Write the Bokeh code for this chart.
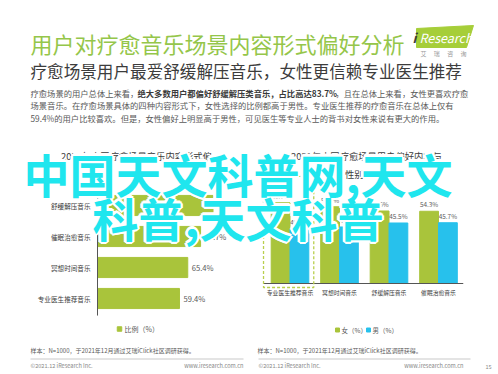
from bokeh.plotting import figure
from bokeh.models import Range1d, ColumnDataSource
from bokeh.transform import dodge
from bokeh.core.properties import value
from bokeh.embed import file_html
from bokeh.resources import INLINE

# ---------------- data ----------------
pref_cats = ["舒缓解压音乐", "催眠治愈音乐", "冥想时间音乐", "专业医生推荐音乐"]
pref_vals = [83.7, 74.7, 65.4, 59.4]

gender_cats = ["专业医生推荐音乐", "冥想时间音乐", "舒缓解压音乐", "催眠治愈音乐"]
female_vals = [60.7, 57.7, 54.5, 54.3]
male_vals = [40.8, 42.5, 45.5, 45.7]

title = "用户对疗愈音乐场景内容形式偏好分析"
subtitle = "疗愈场景用户最爱舒缓解压音乐，女性更信赖专业医生推荐"
para1 = ["疗愈场景的用户总体上来看，", "绝大多数用户都偏好舒缓解压类音乐，占比高达83.7%", "，且在总体上来看，女性更喜欢疗愈"]
para2 = "场景音乐。在疗愈场景具体的四种内容形式下，女性选择的比例都高于男性。专业医生推荐的疗愈音乐在总体上仅有"
para3 = "59.4%的用户比较喜欢。但是，女性偏好上明显高于男性，可见医生等专业人士的背书对女性来说有更大的作用。"
left_title = ["2021年中国疗愈场景音乐内容形式偏", "好分析"]
right_title = ["2021年中国疗愈场景用户偏好内容与", "性别关系"]
left_legend = "比例（%）"
right_legend = ["女（%）", "男（%）"]
source_note = "样本：N=1000，于2021年12月通过艾瑞iClick社区调研获得。"
copyright_note = "©2021.12 iResearch Inc."
site_note = "www.iresearch.com.cn"
page_no = "15"
overlay = ["中国天文科普网,天文", "科普,天文科普"]

# ---------------- style ----------------
W, H = 498, 374
FONT = "Noto Sans CJK SC"
GREEN = "#A9C43B"
BLUE = "#27C1EC"
TITLE_GREEN = "#95C64A"
DARK = "#3C3C3C"
GRAY = "#595959"
CYAN = "#1FE6EE"


def lin_range(anchor_px, px_per_unit, total_px, down=False):
    # build a range so that value 0 sits at anchor_px with the given scale
    if down:  # value grows downward on screen (y index)
        return Range1d(start=(total_px - anchor_px) / px_per_unit, end=-anchor_px / px_per_unit)
    return Range1d(start=-anchor_px / px_per_unit, end=(total_px - anchor_px) / px_per_unit)


def up_range(anchor_px, px_per_unit, total_px):
    # value grows upward on screen, value 0 at anchor_px
    return Range1d(start=(anchor_px - total_px) / px_per_unit, end=anchor_px / px_per_unit)


p = figure(width=W, height=H, x_range=Range1d(0, W), y_range=Range1d(H, 0),
           x_axis_type=None, y_axis_type=None, output_backend="svg",
           toolbar_location=None, min_border=0)
p.grid.visible = False
p.outline_line_color = None
p.background_fill_color = "white"
p.border_fill_color = "white"

p.extra_x_ranges = {"lx": lin_range(97, 1.38, W), "rx": lin_range(289.5, 49.5, W)}
p.extra_y_ranges = {"ly": lin_range(205, 31, H, down=True), "ry": up_range(283, 1.33, H)}

F = value(FONT)


def txt(x, y, t, size, color, align="left", baseline="middle", style="normal", **kw):
    p.text(x=[x], y=[y], text=[t], text_font=F, text_font_size=size, text_color=color,
           text_align=align, text_baseline=baseline, text_font_style=style, **kw)


# ---------------- header ----------------
txt(30, 42, title, "22px", TITLE_GREEN)
txt(30, 70, subtitle, "16.6px", DARK)
txt(30, 92, para1[0], "8.3px", GRAY)
txt(137, 92, para1[1], "8.3px", "#3A3A3A", style="bold")
txt(335, 92, para1[2], "8.3px", GRAY)
txt(30, 104.5, para2, "8.3px", GRAY)
txt(30, 117, para3, "8.3px", GRAY)

# logo
p.patch(x=[416, 473, 466, 416], y=[28, 25, 47, 47], color="#A6CE39")
txt(412, 37, "i", "13px", "#3A3A3A", style="bold italic")
txt(419, 37, "Research", "12.5px", "white", style="italic")
txt(443, 53, "艾　 瑞　 咨　 询", "6px", "#9A9A9A", align="center")

# ---------------- left chart ----------------
idx_l = list(range(len(pref_cats)))
src_l = ColumnDataSource(dict(idx=idx_l, cat=pref_cats, val=pref_vals,
                              lab=[f"{v}%" for v in pref_vals]))
txt(136, 155, left_title[0], "9.3px", DARK, align="center")
txt(136, 173, left_title[1], "9.3px", DARK, align="center")

p.hbar(y="idx", left=0, right="val", height=0.65, source=src_l, color=GREEN,
       x_range_name="lx", y_range_name="ly")
p.segment(x0=0, x1=0, y0=-0.5, y1=3.55, line_color="#555555", line_width=1,
          x_range_name="lx", y_range_name="ly")
p.text(x=0, y="idx", text="cat", source=src_l, x_offset=-7, text_align="right",
       text_baseline="middle", text_font=F, text_font_size="6.6px", text_color=DARK,
       x_range_name="lx", y_range_name="ly")
p.text(x="val", y="idx", text="lab", source=src_l, x_offset=4, text_align="left",
       text_baseline="middle", text_font=F, text_font_size="7.6px", text_color=GRAY,
       x_range_name="lx", y_range_name="ly")

# legend
p.rect(x=[119], y=[328.5], width=4.5, height=4.5, color=GREEN)
txt(124, 328.5, left_legend, "7px", GRAY)

# ---------------- right chart ----------------
idx_r = list(range(len(gender_cats)))
src_r = ColumnDataSource(dict(idx=idx_r, cat=gender_cats, f=female_vals, m=male_vals,
                              flab=[f"{v}%" for v in female_vals],
                              mlab=[f"{v}%" for v in male_vals]))
txt(366, 155, right_title[0], "9.3px", DARK, align="center")
txt(363, 173, right_title[1], "9.3px", DARK, align="center")

bw = 0.38
p.vbar(x=dodge("idx", -bw / 2), top="f", bottom=0, width=bw, source=src_r, color=GREEN,
       x_range_name="rx", y_range_name="ry")
p.vbar(x=dodge("idx", bw / 2), top="m", bottom=0, width=bw, source=src_r, color=BLUE,
       x_range_name="rx", y_range_name="ry")
p.segment(x0=-0.54, x1=3.5, y0=0, y1=0, line_color="#555555", line_width=1,
          x_range_name="rx", y_range_name="ry")
p.text(x=dodge("idx", -bw / 2), y="f", text="flab", source=src_r, y_offset=-2,
       text_align="center", text_baseline="bottom", text_font=F, text_font_size="6.4px",
       text_color=GRAY, x_range_name="rx", y_range_name="ry")
p.text(x=dodge("idx", bw / 2), y="m", text="mlab", source=src_r, y_offset=-2,
       text_align="center", text_baseline="bottom", text_font=F, text_font_size="6.4px",
       text_color=GRAY, x_range_name="rx", y_range_name="ry")
p.text(x="idx", y=0, text="cat", source=src_r, y_offset=9, text_align="center",
       text_baseline="middle", text_font=F, text_font_size="5.8px", text_color=DARK,
       x_range_name="rx", y_range_name="ry")
# highlight box around the first group
p.quad(left=-0.535, right=0.48, bottom=-3, top=80.5, fill_color=None, line_color="#B9CF4E",
       line_width=1.3, line_dash="3 2", x_range_name="rx", y_range_name="ry")

# legend
p.rect(x=[337], y=[329.5], width=4, height=4, color=GREEN)
txt(341, 329.5, right_legend[0], "6.5px", GRAY)
p.rect(x=[368], y=[329.5], width=4, height=4, color=BLUE)
txt(372, 329.5, right_legend[1], "6.5px", GRAY)

# ---------------- footers ----------------
txt(30, 350, source_note, "6px", GRAY)
p.segment(x0=[30], x1=[243], y0=[358.5], y1=[358.5], line_color="#BBBBBB", line_width=0.8)
txt(30, 365.5, copyright_note, "5.6px", "#888888")
txt(243, 365.5, site_note, "5.6px", "#888888", align="right")

txt(257, 350, source_note, "6px", GRAY)
p.segment(x0=[258], x1=[470], y0=[358.5], y1=[358.5], line_color="#BBBBBB", line_width=0.8)
txt(258, 365.5, copyright_note, "5.6px", "#888888")
txt(463, 365.5, site_note, "5.6px", "#888888", align="right")
txt(485, 365.5, page_no, "5.6px", "#888888")

# ---------------- overlay text ----------------
ov_x = [23, 92]
ov_y = [172, 216]
halo = [(-2, 0), (2, 0), (0, -2), (0, 2), (-1.5, -1.5), (1.5, 1.5), (-1.5, 1.5), (1.5, -1.5),
        (-2.5, 0), (2.5, 0), (0, 2.5), (0, -2.5)]
for dx, dy in halo:
    p.text(x=ov_x, y=ov_y, text=overlay, x_offset=dx, y_offset=dy, text_font=F,
           text_font_size="46px", text_font_style="bold", text_color="white",
           text_align="left", text_baseline="middle")
p.text(x=ov_x, y=ov_y, text=overlay, text_font=F, text_font_size="46px",
       text_font_style="bold", text_color=CYAN, text_align="left", text_baseline="middle")

open("out.html", "w").write(file_html(p, INLINE))
